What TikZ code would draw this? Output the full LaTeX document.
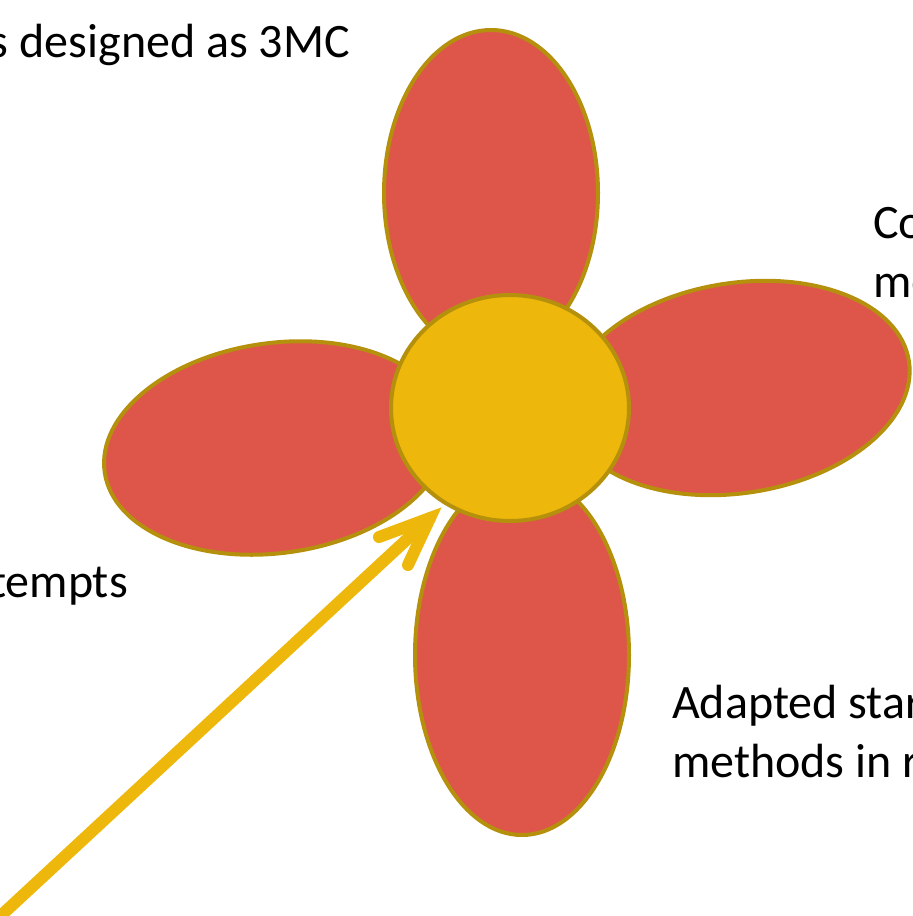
\documentclass[tikz,border=0pt]{standalone}
\usepackage{fontspec}
\setmainfont{Carlito}
\usetikzlibrary{calc}
\definecolor{petalred}{HTML}{DE564A}
\definecolor{rim}{HTML}{B5900C}
\definecolor{core}{HTML}{EDB80B}
\begin{document}
\begin{tikzpicture}[x=1pt,y=-1pt,
  petal/.style={fill=petalred,draw=rim,line width=4pt},
  coreshape/.style={fill=core,draw=rim,line width=4pt},
  pointer/.style={draw=core,line width=12pt,line cap=round},
  lbl/.style={font=\fontsize{48}{59}\selectfont,inner sep=0pt,align=left}]
\useasboundingbox (0,0) rectangle (913,916);
\clip (0,0) rectangle (913,916);
\coordinate (ptop) at (491,193);
\coordinate (pright) at (738,388);
\coordinate (pleft) at (276,448);
\coordinate (pbottom) at (522,655);
\coordinate (ccore) at (510,408);
\draw[petal] (ptop) ellipse [x radius=107, y radius=163];
\draw[petal,rotate around={9:(pright)}] (pright) ellipse [x radius=173, y radius=105];
\draw[petal,rotate around={8:(pleft)}] (pleft) ellipse [x radius=173, y radius=105];
\draw[petal] (pbottom) ellipse [x radius=107, y radius=180];
\draw[coreshape] (ccore) ellipse [x radius=119, y radius=113];
\coordinate (tip) at (430,518);
\coordinate (tail) at (-20,935);
\coordinate (barbA) at (379,537);
\coordinate (barbB) at (408,565);
\draw[pointer] (tail) -- (tip);
\draw[pointer,line join=miter] (barbA) -- (tip) -- (barbB);
\node[lbl,anchor=base east] (t1) at (350,57) {s designed as 3MC};
\node[lbl,anchor=base west] (t2) at (873,297) {Co\\me};
\node[lbl,anchor=base east] (t3) at (128,597) {tempts};
\node[lbl,anchor=base west] (t4) at (672,777) {Adapted star\\methods in r};
\end{tikzpicture}
\end{document}
